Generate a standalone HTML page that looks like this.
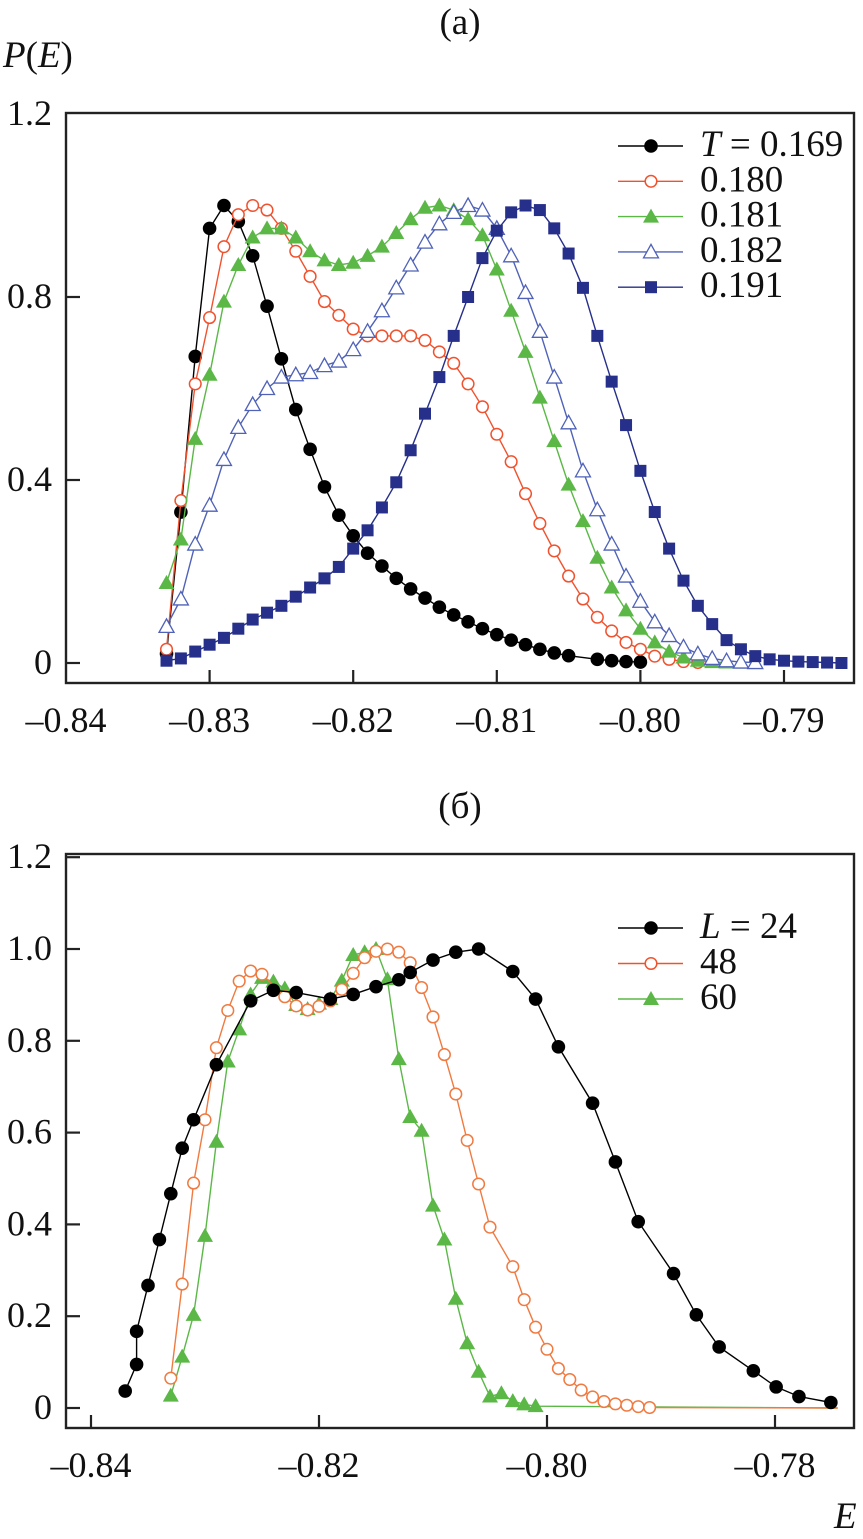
<!DOCTYPE html>
<html><head><meta charset="utf-8"><style>
html,body{margin:0;padding:0;background:#fff;}
svg{display:block;}
text{font-family:"Liberation Serif","Times New Roman","DejaVu Serif",serif;}
</style></head><body>
<svg id="chart" width="863" height="1539" viewBox="0 0 863 1539">
<g id="gA"></g>
<g id="gB"></g>
</svg>
<script>
// ---------- Panel (a) data ----------
const aBlackE=[-0.833,-0.832,-0.831,-0.830,-0.829,-0.828,-0.827,-0.826,-0.825,-0.824,-0.823,-0.822,-0.821,-0.820,-0.819,-0.818,-0.817,-0.816,-0.815,-0.814,-0.813,-0.812,-0.811,-0.810,-0.809,-0.808,-0.807,-0.806,-0.805,-0.803,-0.802,-0.801,-0.800];
const aBlackP=[0.02,0.33,0.67,0.95,1.0,0.965,0.89,0.78,0.665,0.554,0.467,0.385,0.323,0.278,0.24,0.212,0.185,0.162,0.142,0.122,0.105,0.09,0.075,0.062,0.05,0.04,0.03,0.022,0.016,0.008,0.005,0.003,0.002];
const aRedE=[-0.833,-0.832,-0.831,-0.830,-0.829,-0.828,-0.827,-0.826,-0.825,-0.824,-0.823,-0.822,-0.821,-0.820,-0.819,-0.818,-0.817,-0.816,-0.815,-0.814,-0.813,-0.812,-0.811,-0.810,-0.809,-0.808,-0.807,-0.806,-0.805,-0.804,-0.803,-0.802,-0.801,-0.800,-0.799,-0.798,-0.797,-0.796];
const aRedP=[0.03,0.355,0.61,0.755,0.91,0.98,1.0,0.99,0.95,0.9,0.845,0.79,0.76,0.73,0.715,0.715,0.715,0.715,0.705,0.68,0.655,0.61,0.56,0.5,0.44,0.37,0.305,0.245,0.19,0.14,0.1,0.07,0.045,0.03,0.015,0.008,0.003,0.001];
const aGreenE=[-0.833,-0.832,-0.831,-0.830,-0.829,-0.828,-0.827,-0.826,-0.825,-0.824,-0.823,-0.822,-0.821,-0.820,-0.819,-0.818,-0.817,-0.816,-0.815,-0.814,-0.813,-0.812,-0.811,-0.810,-0.809,-0.808,-0.807,-0.806,-0.805,-0.804,-0.803,-0.802,-0.801,-0.800,-0.799,-0.798,-0.797,-0.796,-0.795,-0.794];
const aGreenP=[0.175,0.27,0.49,0.63,0.79,0.87,0.93,0.95,0.95,0.93,0.9,0.88,0.87,0.875,0.89,0.91,0.94,0.97,0.995,1.0,0.99,0.97,0.935,0.86,0.77,0.68,0.58,0.485,0.39,0.31,0.23,0.165,0.115,0.075,0.045,0.025,0.012,0.005,0.002,0.001];
const aBlueE=[-0.833,-0.832,-0.831,-0.830,-0.829,-0.828,-0.827,-0.826,-0.825,-0.824,-0.823,-0.822,-0.821,-0.820,-0.819,-0.818,-0.817,-0.816,-0.815,-0.814,-0.813,-0.812,-0.811,-0.810,-0.809,-0.808,-0.807,-0.806,-0.805,-0.804,-0.803,-0.802,-0.801,-0.800,-0.799,-0.798,-0.797,-0.796,-0.795,-0.794,-0.793,-0.792];
const aBlueP=[0.08,0.14,0.26,0.345,0.445,0.515,0.565,0.6,0.625,0.63,0.635,0.65,0.66,0.685,0.725,0.77,0.82,0.87,0.92,0.96,0.985,1.0,0.99,0.95,0.89,0.81,0.725,0.625,0.525,0.42,0.335,0.26,0.19,0.135,0.09,0.06,0.035,0.02,0.01,0.005,0.002,0.001];
const aNavyE=[-0.833,-0.832,-0.831,-0.830,-0.829,-0.828,-0.827,-0.826,-0.825,-0.824,-0.823,-0.822,-0.821,-0.820,-0.819,-0.818,-0.817,-0.816,-0.815,-0.814,-0.813,-0.812,-0.811,-0.810,-0.809,-0.808,-0.807,-0.806,-0.805,-0.804,-0.803,-0.802,-0.801,-0.800,-0.799,-0.798,-0.797,-0.796,-0.795,-0.794,-0.793,-0.792,-0.791,-0.790,-0.789,-0.788,-0.787,-0.786];
const aNavyP=[0.005,0.01,0.025,0.04,0.055,0.075,0.095,0.11,0.125,0.145,0.165,0.185,0.21,0.25,0.29,0.34,0.395,0.465,0.545,0.625,0.715,0.8,0.885,0.945,0.985,1.0,0.99,0.95,0.895,0.82,0.715,0.615,0.52,0.42,0.33,0.25,0.18,0.125,0.085,0.05,0.03,0.015,0.008,0.005,0.003,0.002,0.001,0.0];
const aXTicks=[-0.84,-0.83,-0.82,-0.81,-0.80,-0.79];
const aXTickLabels=["\u20130.84","\u20130.83","\u20130.82","\u20130.81","\u20130.80","\u20130.79"];
const aYTicks=[0,0.4,0.8,1.2];
const aYTickLabels=["0","0.4","0.8","1.2"];
const aLegend=["0.169","0.180","0.181","0.182","0.191"];

// ---------- Panel (б) data ----------
const bBlackE=[-0.8370,-0.8360,-0.8360,-0.8350,-0.8340,-0.8330,-0.8320,-0.8310,-0.8290,-0.8260,-0.8240,-0.8220,-0.8190,-0.8170,-0.8150,-0.8130,-0.8120,-0.8100,-0.8080,-0.8060,-0.8030,-0.8010,-0.7990,-0.7960,-0.7940,-0.7920,-0.7889,-0.7869,-0.7849,-0.7819,-0.7799,-0.7779,-0.7751];
const bBlackP=[0.037,0.095,0.167,0.267,0.367,0.467,0.566,0.628,0.748,0.887,0.910,0.905,0.891,0.901,0.918,0.933,0.949,0.976,0.993,1.0,0.951,0.891,0.787,0.664,0.536,0.406,0.293,0.203,0.133,0.081,0.046,0.025,0.012];
const bRedE=[-0.833,-0.832,-0.831,-0.830,-0.829,-0.828,-0.827,-0.826,-0.825,-0.823,-0.822,-0.821,-0.820,-0.819,-0.818,-0.817,-0.816,-0.815,-0.814,-0.813,-0.812,-0.811,-0.810,-0.809,-0.808,-0.807,-0.806,-0.805,-0.803,-0.802,-0.801,-0.800,-0.799,-0.798,-0.797,-0.796,-0.795,-0.794,-0.793,-0.792,-0.791];
const bRedP=[0.065,0.27,0.49,0.628,0.785,0.866,0.93,0.952,0.945,0.896,0.876,0.867,0.875,0.887,0.912,0.947,0.981,0.995,1.0,0.993,0.97,0.916,0.852,0.77,0.684,0.583,0.488,0.394,0.308,0.236,0.176,0.128,0.086,0.062,0.039,0.024,0.014,0.009,0.006,0.003,0.001];
const bGreenE=[-0.833,-0.832,-0.831,-0.830,-0.829,-0.828,-0.827,-0.826,-0.825,-0.824,-0.823,-0.822,-0.821,-0.820,-0.819,-0.818,-0.817,-0.816,-0.815,-0.814,-0.813,-0.812,-0.811,-0.810,-0.809,-0.808,-0.807,-0.806,-0.805,-0.804,-0.803,-0.802,-0.801];
const bGreenP=[0.027,0.112,0.203,0.375,0.58,0.755,0.825,0.901,0.937,0.929,0.914,0.878,0.869,0.881,0.891,0.931,0.987,0.993,1.0,0.934,0.76,0.634,0.604,0.441,0.367,0.238,0.141,0.079,0.025,0.032,0.015,0.008,0.004];
const bXTicks=[-0.84,-0.82,-0.80,-0.78];
const bXTickLabels=["\u20130.84","\u20130.82","\u20130.80","\u20130.78"];
const bYTicks=[0,0.2,0.4,0.6,0.8,1.0,1.2];
const bYTickLabels=["0","0.2","0.4","0.6","0.8","1.0","1.2"];
const bLegend=["24","48","60"];

const NS="http://www.w3.org/2000/svg";
const FONT='"Liberation Serif","Times New Roman","DejaVu Serif",serif';
function mk(parent,tag,attrs){const e=document.createElementNS(NS,tag);for(const k in attrs)e.setAttribute(k,attrs[k]);if(tag==="text")e.setAttribute("font-family",FONT);parent.appendChild(e);return e;}

const axA={x:E=>66+(E+0.84)*14360,y:P=>663-P*457.5,left:66,right:854,top:113,bottom:683};
const axB={x:E=>91+(E+0.84)*11400,y:P=>1408-P*459,left:66,right:854,top:854,bottom:1428};

function marker(g,type,color,cx,cy){
  let m;
  if(type==="dot"){m=mk(g,"circle",{cx:cx,cy:cy,r:6.8,fill:"#000"});}
  else if(type==="ocircle"){m=mk(g,"circle",{cx:cx,cy:cy,r:5.8,fill:"#fff",stroke:color,"stroke-width":1.5});}
  else if(type==="ftri"){m=mk(g,"polygon",{points:`${cx-8},${cy+6} ${cx+8},${cy+6} ${cx},${cy-8}`,fill:color});}
  else if(type==="otri"){m=mk(g,"polygon",{points:`${cx-7.5},${cy+6} ${cx+7.5},${cy+6} ${cx},${cy-7.5}`,fill:"#fff",stroke:color,"stroke-width":1.3});}
  else {m=mk(g,"rect",{x:cx-6,y:cy-6,width:12,height:12,fill:color});}
  return m;
}

function series(g,ax,Es,Ps,color,type,name,extendTo){
  const sg=mk(g,"g",{});
  
  
  let pts=Es.map((e,i)=>`${ax.x(e).toFixed(1)},${ax.y(Ps[i]).toFixed(1)}`);
  if(extendTo!==undefined){pts.push(`${ax.x(extendTo).toFixed(1)},${ax.y(0).toFixed(1)}`);}
  const ln=mk(sg,"polyline",{points:pts.join(" "),fill:"none",stroke:color,"stroke-width":1.4});
  
  
  Es.forEach((e,i)=>{
    const m=marker(sg,type,color,ax.x(e),ax.y(Ps[i]));
    
    
  });
}

function frame(g,ax,xt,xl,yt,yl){
  const r=mk(g,"rect",{x:ax.left,y:ax.top,width:ax.right-ax.left,height:ax.bottom-ax.top,fill:"none",stroke:"#222","stroke-width":2.4});
  
  
  xt.forEach((v,i)=>{
    const x=ax.x(v);
    if(x>ax.left+3){const t=mk(g,"line",{x1:x,x2:x,y1:ax.bottom,y2:ax.bottom-13,stroke:"#222","stroke-width":2.2});
      
      }
    const tx=mk(g,"text",{x:x,y:ax.bottom+49,"font-size":36,"text-anchor":"middle",fill:"#111"});
    tx.textContent=xl[i];
    
    
  });
  yt.forEach((v,i)=>{
    const y=ax.y(v);
    if(y>ax.top+3){const t=mk(g,"line",{x1:ax.left,x2:ax.left+14,y1:y,y2:y,stroke:"#222","stroke-width":2.2});
      
      }
    const tx=mk(g,"text",{x:52,y:y+11,"font-size":36,"text-anchor":"end",fill:"#111"});
    tx.textContent=yl[i];
    
    
  });
}

function legendEntry(g,x1,y,color,type,label,italicPrefix){
  const lg=mk(g,"g",{});
  
  
  mk(lg,"line",{x1:x1,x2:x1+65,y1:y,y2:y,stroke:color,"stroke-width":1.4});
  marker(lg,type,color,x1+33,y);
  const t=mk(lg,"text",{x:x1+82,y:y+10,"font-size":37,fill:"#111"});
  if(italicPrefix){
    const s=mk(t,"tspan",{"font-style":"italic"});s.textContent=italicPrefix;
    const s2=mk(t,"tspan",{});s2.textContent=" = "+label;
  } else t.textContent=label;
}

const gA=document.getElementById("gA"),gB=document.getElementById("gB");
const C={black:"#000",red:"#f0522e",green:"#5bb847",blue:"#4f62b8",navy:"#262f8a"};

// Panel a
frame(gA,axA,aXTicks,aXTickLabels,aYTicks,aYTickLabels);
series(gA,axA,aBlackE,aBlackP,C.black,"dot","series-t0169");
series(gA,axA,aRedE,aRedP,C.red,"ocircle","series-t0180");
series(gA,axA,aGreenE,aGreenP,C.green,"ftri","series-t0181");
series(gA,axA,aBlueE,aBlueP,C.blue,"otri","series-t0182");
series(gA,axA,aNavyE,aNavyP,C.navy,"sq","series-t0191");
const aTypes=[["black","dot"],["red","ocircle"],["green","ftri"],["blue","otri"],["navy","sq"]];
aLegend.forEach((l,i)=>legendEntry(gA,618,146+i*35.3,C[aTypes[i][0]],aTypes[i][1],l,i===0?"T":null));
let t=mk(gA,"text",{x:460,y:34,"font-size":37,"text-anchor":"middle",fill:"#111"});t.textContent="(a)";


t=mk(gA,"text",{x:3,y:67,"font-size":37,fill:"#111"});


let s=mk(t,"tspan",{"font-style":"italic"});s.textContent="P";
s=mk(t,"tspan",{});s.textContent="(";
s=mk(t,"tspan",{"font-style":"italic"});s.textContent="E";
s=mk(t,"tspan",{});s.textContent=")";

// Panel b
frame(gB,axB,bXTicks,bXTickLabels,bYTicks,bYTickLabels);
series(gB,axB,bGreenE,bGreenP,C.green,"ftri","series-l60",-0.7745);
series(gB,axB,bRedE,bRedP,"#f07a40","ocircle","series-l48",-0.7745);
series(gB,axB,bBlackE,bBlackP,C.black,"dot","series-l24");
const bTypes=[["black","dot"],["red","ocircle"],["green","ftri"]];
bLegend.forEach((l,i)=>legendEntry(gB,618,928+i*35.5,C[bTypes[i][0]],bTypes[i][1],l,i===0?"L":null));
t=mk(gB,"text",{x:460,y:818,"font-size":37,"text-anchor":"middle",fill:"#111"});t.textContent="(б)";


t=mk(gB,"text",{x:834,y:1528,"font-size":37,"font-style":"italic",fill:"#111"});t.textContent="E";


</script>
</body></html>
